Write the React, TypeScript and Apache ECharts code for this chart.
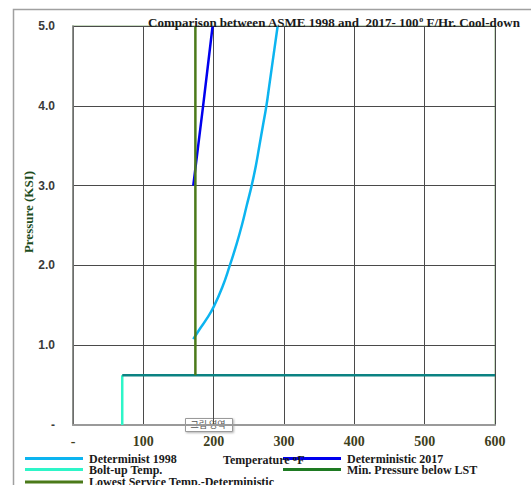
import React, { useEffect, useRef } from "react";
import * as echarts from "echarts";

const det1998: [number, number][] = [
  [171, 1.075], [180, 1.2], [190, 1.33], [200, 1.48], [212, 1.72], [223, 2.0],
  [232, 2.25], [240, 2.5], [247, 2.75], [254, 3.0], [260, 3.25], [265, 3.5],
  [270, 3.75], [275, 4.0], [279, 4.25], [283, 4.5], [287, 4.75], [291, 5.0],
];
const det2017: [number, number][] = [[171, 3.0], [185, 4.0], [198.5, 5.0]];
const boltUp: [number, number][] = [[70, 0], [70, 0.625]];
const minPressure: [number, number][] = [[70, 0.625], [600, 0.625]];
const lowestService: [number, number][] = [[174, 0.625], [174, 5.0]];

const xMin = 0, xMax = 600, xStep = 100;
const yMin = 0, yMax = 5, yStep = 1;

const serif = "'Liberation Serif', 'DejaVu Serif', serif";

export default function App() {
  const ref = useRef<HTMLDivElement>(null);
  useEffect(() => {
    if (!ref.current) return;
    const chart = echarts.init(ref.current, undefined, { renderer: "svg" });
    const legendText = { fontFamily: serif, fontWeight: "bold" as const, fontSize: 12, lineHeight: 11, color: "#1a1a1a" };
    const mkLegend = (name: string, left: number, top: number, color: string) => ({
      data: [{ name, itemStyle: { color } }],
      left, top, itemWidth: 58, itemHeight: 3, itemGap: 0, padding: 0, icon: "rect",
      textStyle: { ...legendText, padding: [0, 0, 0, 1] }, selectedMode: false,
    });
    chart.setOption({
      animation: false,
      backgroundColor: "#ffffff",
      grid: { left: 73, right: 36, top: 26, bottom: 60, show: true, borderColor: "#b8cfae", borderWidth: 1.5 },
      title: {
        text: "Comparison between ASME 1998 and  2017- 100{s|o} F/Hr. Cool-down",
        left: 143, top: 10,
        textStyle: {
          fontFamily: serif, fontWeight: "bold", fontSize: 13, color: "#1a1a1a",
          rich: { s: { fontFamily: serif, fontWeight: "bold", fontSize: 8, color: "#1a1a1a", verticalAlign: "top", padding: [0, 0, 6, 0] } },
        },
      },
      legend: [
        mkLegend("Determinist 1998", 25, 452.5, "#0cb4f0"),
        mkLegend("Deterministic 2017", 283, 452.5, "#0000ee"),
        mkLegend("Bolt-up Temp.", 25, 463.5, "#2ef5c8"),
        mkLegend("Min. Pressure below LST", 283, 463.5, "#1e7a22"),
        mkLegend("Lowest Service Temp.-Deterministic", 25, 476, "#4b7a1a"),
      ],
      xAxis: {
        type: "value", min: xMin, max: xMax, interval: xStep,
        axisLine: { show: true, lineStyle: { color: "#9a9a9a", width: 2 } },
        axisTick: { show: false },
        splitLine: { show: true, lineStyle: { color: "#4a4a4a", width: 1 } },
        axisLabel: {
          margin: 9,
          formatter: (v: number) => (v === 0 ? "-" : String(v)),
          fontFamily: serif, fontWeight: "bold", fontSize: 14, color: "#3e3e1c",
        },
      },
      yAxis: {
        type: "value", min: yMin, max: yMax, interval: yStep,
        axisLine: { show: true, lineStyle: { color: "#7a7a7a", width: 1.5 } },
        axisTick: { show: false },
        splitLine: { show: true, lineStyle: { color: "#4a4a4a", width: 1 } },
        axisLabel: {
          margin: 18,
          formatter: (v: number) => (v === 0 ? "-" : v.toFixed(1)),
          fontFamily: "'Liberation Sans', Arial, sans-serif", fontWeight: "bold", fontSize: 12, color: "#3a3a3a",
        },
      },
      series: [
        { name: "Determinist 1998", type: "line", data: det1998, symbol: "none", smooth: true, lineStyle: { color: "#0cb4f0", width: 2.5 }, itemStyle: { color: "#0cb4f0" } },
        { name: "Deterministic 2017", type: "line", data: det2017, symbol: "none", lineStyle: { color: "#0000ee", width: 2.5 }, itemStyle: { color: "#0000ee" } },
        { name: "Bolt-up Temp.", type: "line", data: boltUp, symbol: "none", lineStyle: { color: "#2ef5c8", width: 2.5 }, itemStyle: { color: "#2ef5c8" } },
        { name: "Min. Pressure below LST", type: "line", data: minPressure, symbol: "none", lineStyle: { color: "#0b8282", width: 2.5 }, itemStyle: { color: "#1e7a22" } },
        { name: "Lowest Service Temp.-Deterministic", type: "line", data: lowestService, symbol: "none", lineStyle: { color: "#4b7a1a", width: 2.5 }, itemStyle: { color: "#4b7a1a" } },
      ],
      graphic: [
        { type: "rect", left: 11, top: 7, shape: { width: 600, height: 600 }, style: { fill: "none", stroke: "#a0a0a0", lineWidth: 1.5 }, silent: true, z: -10 },
        {
          type: "text", x: 28.5, y: 212, rotation: Math.PI / 2, z: 100,
          style: { text: "Pressure (KSI)", font: `bold 13px ${serif}`, fill: "#1d4d1d", align: "center", verticalAlign: "middle" },
        },
        {
          type: "text", left: 223, top: 453, z: 100,
          style: {
            text: "Temperature {s|o}F",
            font: `bold 12px ${serif}`, fill: "#1a1a1a",
            rich: { s: { font: `bold 9px ${serif}`, fill: "#1a1a1a", verticalAlign: "top", padding: [0, 0, 5, 0] } },
          },
        },
        {
          type: "group", left: 185, top: 418, z: 100,
          children: [
            { type: "rect", shape: { x: 0, y: 0, width: 47, height: 13 }, style: { fill: "#ffffff", stroke: "#9a9a9a", lineWidth: 1, shadowBlur: 2, shadowOffsetX: 1, shadowOffsetY: 1, shadowColor: "rgba(0,0,0,0.3)" } },
            { type: "text", x: 5, y: 1.5, style: { text: "그림 영역", font: "9px 'Noto Sans CJK KR', sans-serif", fill: "#555555" } },
          ],
        },
      ],
    });
    return () => chart.dispose();
  }, []);
  return <div ref={ref} style={{ width: 531, height: 485, position: "absolute", left: 0, top: 0 }} />;
}
